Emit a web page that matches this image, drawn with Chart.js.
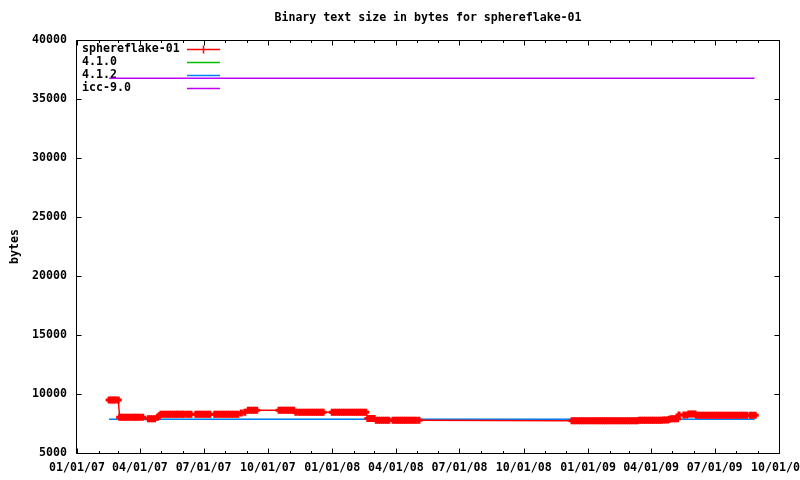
<!DOCTYPE html>
<html lang="en">
<head>
  <meta charset="UTF-8">
  <script src="https://cdn.jsdelivr.net/npm/chart.js@4.4.0/dist/chart.umd.min.js"></script>
  <title>Binary text size in bytes for sphereflake-01</title>
  <style>
    html, body { margin: 0; padding: 0; background: #fff; }
  </style>
</head>
<body>
  <canvas id="myChart" width="800" height="480"></canvas>
  <script type="text/javascript">
    // x values are days since 01/01/07
    const quarterDays = [0, 90, 181, 273, 365, 456, 547, 639, 731, 821, 912, 1004]
    const quarterLabels = ['01/01/07', '04/01/07', '07/01/07', '10/01/07', '01/01/08', '04/01/08',
      '07/01/08', '10/01/08', '01/01/09', '04/01/09', '07/01/09', '10/01/09']
    const monthDays = [0, 31, 59, 90, 120, 151, 181, 212, 243, 273, 304, 334,
      365, 396, 425, 456, 486, 517, 547, 578, 609, 639, 670, 700,
      731, 762, 790, 821, 851, 882, 912, 943, 974, 1004]
    const yTicks = [5000, 10000, 15000, 20000, 25000, 30000, 35000, 40000]

    const seriesNames = ['sphereflake-01', '4.1.0', '4.1.2', 'icc-9.0']

    const sphereDays = [
      46, 49, 52, 55, 59,
      61, 64, 67, 70, 73, 76, 79, 82, 84, 87, 90, 94,
      102, 105, 108, 111,
      115, 118,
      120, 123, 126, 129, 132, 135, 138, 141, 143, 145, 148, 151, 153, 157, 160, 163,
      170, 173, 176, 179, 182, 185, 188, 190, 197, 200, 203, 206, 209, 212, 215, 218, 221, 224, 227, 230,
      235, 240,
      245, 248, 251, 254, 257,
      289, 292, 295, 298, 301, 304, 307, 310,
      313, 317, 320, 323, 326, 329, 332, 335, 338, 341, 344, 347, 350, 352,
      365, 368, 371, 374, 377, 380, 383, 386, 389, 392, 395, 398, 401, 404, 407, 410, 413,
      416, 419, 422, 425,
      428, 431, 434, 437, 440, 443, 446,
      452, 455, 458, 461, 464, 467, 470, 473, 476, 479, 482, 485, 489,
      708, 711, 714, 717, 720, 723, 726, 729, 732, 735, 738, 741,
      744, 747, 750, 753, 756, 759, 762, 765, 768, 771, 774, 777, 780, 783, 786, 789, 792, 795, 798, 801,
      804, 807, 810, 813, 816, 819, 822, 824, 827, 830, 833, 836,
      839, 842, 845,
      847, 850, 853, 856, 859,
      861, 868, 872,
      875, 878, 881, 884,
      886, 889, 892, 895, 898, 901, 904, 907, 910, 913, 916, 919, 922, 925, 928, 931, 934, 937, 940, 943, 946, 949, 952, 955, 958,
      963, 966, 970
    ]
    const sphereBytes = [
      9500, 9500, 9500, 9500, 9500,
      8030, 8030, 8030, 8030, 8030, 8030, 8030, 8030, 8030, 8030, 8030, 8030,
      7900, 7900, 7900, 7900,
      8030, 8150,
      8280, 8280, 8280, 8280, 8280, 8280, 8280, 8280, 8280, 8280, 8280, 8280, 8280, 8280, 8280, 8280,
      8280, 8280, 8280, 8280, 8280, 8280, 8280, 8280, 8280, 8280, 8280, 8280, 8280, 8280, 8280, 8280, 8280, 8280, 8280, 8280,
      8400, 8450,
      8630, 8630, 8630, 8630, 8630,
      8630, 8630, 8630, 8630, 8630, 8630, 8630, 8630,
      8450, 8450, 8450, 8450, 8450, 8450, 8450, 8450, 8450, 8450, 8450, 8450, 8450, 8450,
      8450, 8450, 8450, 8450, 8450, 8450, 8450, 8450, 8450, 8450, 8450, 8450, 8450, 8450, 8450, 8450, 8450,
      7920, 7920, 7920, 7920,
      7770, 7770, 7770, 7770, 7770, 7770, 7770,
      7770, 7770, 7770, 7770, 7770, 7770, 7770, 7770, 7770, 7770, 7770, 7770, 7770,
      7730, 7730, 7730, 7730, 7730, 7730, 7730, 7730, 7730, 7730, 7730, 7730,
      7730, 7730, 7730, 7730, 7730, 7730, 7730, 7730, 7730, 7730, 7730, 7730, 7730, 7730, 7730, 7730, 7730, 7730, 7730, 7730,
      7770, 7770, 7770, 7770, 7770, 7770, 7770, 7770, 7770, 7770, 7770, 7770,
      7790, 7790, 7790,
      7850, 7900, 7900, 7900, 7900,
      8220, 8220, 8220,
      8300, 8300, 8300, 8300,
      8200, 8200, 8200, 8200, 8200, 8200, 8200, 8200, 8200, 8200, 8200, 8200, 8200, 8200, 8200, 8200, 8200, 8200, 8200, 8200, 8200, 8200, 8200, 8200, 8200,
      8200, 8200, 8200
    ]

    const refDays = [46, 969]
    const gcc410Bytes = [7850, 7850]
    const gcc412Bytes = [7850, 7850]
    const icc90Bytes = [36750, 36750]

    const colors = ['#ff0000', '#00c000', '#0080ff', '#c000ff']
    const font = 'bold 11.6px "DejaVu Sans Mono", "Liberation Mono", monospace'

    function pts(xs, ys) {
      return xs.map((x, i) => ({ x: x, y: ys[i] }))
    }

    // gnuplot-ish frame: border, inward ticks mirrored on all sides, title and key
    const gnuFrame = {
      id: 'gnuFrame',
      beforeDatasetsDraw(chart) {
        const ctx = chart.ctx
        const a = chart.chartArea
        ctx.save()
        ctx.font = font
        ctx.fillStyle = '#000'
        ctx.textBaseline = 'middle'
        ctx.textAlign = 'center'
        ctx.fillText('Binary text size in bytes for sphereflake-01', (a.left + a.right) / 2, 18)

        // key
        ctx.textAlign = 'left'
        chart.data.datasets.forEach((ds, i) => {
          const yy = 49 + i * 13
          ctx.fillStyle = '#000'
          ctx.fillText(ds.label, 82, yy)
          ctx.strokeStyle = ds.borderColor
          ctx.lineWidth = 1.5
          ctx.beginPath()
          ctx.moveTo(187, yy + 0.5)
          ctx.lineTo(220, yy + 0.5)
          if (i === 0) {
            ctx.moveTo(203.5, yy - 3.5)
            ctx.lineTo(203.5, yy + 4.5)
          }
          ctx.stroke()
        })
        ctx.restore()
      },
      afterDatasetsDraw(chart) {
        const ctx = chart.ctx
        const a = chart.chartArea
        const { x, y } = chart.scales
        const L = Math.floor(a.left) - 0.5, R = Math.floor(a.right) + 0.5
        const T = Math.floor(a.top) + 0.5, B = Math.floor(a.bottom) + 0.5
        ctx.save()
        ctx.strokeStyle = '#000'
        ctx.lineWidth = 1
        ctx.beginPath()
        ctx.rect(L, T, R - L, B - T)
        monthDays.forEach(d => {
          const px = Math.round(x.getPixelForValue(d)) + 0.5
          const len = quarterDays.includes(d) ? 5 : 2.5
          ctx.moveTo(px, B); ctx.lineTo(px, B - len)
          ctx.moveTo(px, T); ctx.lineTo(px, T + len)
        })
        yTicks.forEach(v => {
          const py = Math.round(y.getPixelForValue(v)) + 0.5
          ctx.moveTo(L, py); ctx.lineTo(L + 5, py)
          ctx.moveTo(R, py); ctx.lineTo(R - 5, py)
        })
        ctx.stroke()
        ctx.restore()
      }
    }

    const ctx = document.getElementById('myChart').getContext('2d')
    const myChart = new Chart(ctx, {
      type: 'line',
      data: {
        datasets: [
          {
            label: seriesNames[0],
            data: pts(sphereDays, sphereBytes),
            borderColor: colors[0],
            backgroundColor: colors[0],
            borderWidth: 1.5,
            pointStyle: 'cross',
            pointRadius: 3.5,
            pointBorderWidth: 3,
            pointBorderColor: colors[0],
            order: 0
          },
          {
            label: seriesNames[1],
            data: pts(refDays, gcc410Bytes),
            borderColor: colors[1],
            borderWidth: 1,
            pointRadius: 0,
            order: 2
          },
          {
            label: seriesNames[2],
            data: pts(refDays, gcc412Bytes),
            borderColor: colors[2],
            borderWidth: 1.5,
            pointRadius: 0,
            order: 1
          },
          {
            label: seriesNames[3],
            data: pts(refDays, icc90Bytes),
            borderColor: colors[3],
            borderWidth: 1.5,
            pointRadius: 0,
            order: 3
          }
        ]
      },
      options: {
        responsive: false,
        animation: false,
        devicePixelRatio: 1,
        layout: { padding: { top: 40, right: 21, left: 0, bottom: 0 } },
        plugins: {
          legend: { display: false },
          tooltip: { enabled: false },
          title: { display: false }
        },
        scales: {
          x: {
            type: 'linear',
            min: 0,
            max: 1004,
            grid: { display: false, drawTicks: false },
            border: { display: false },
            afterBuildTicks: scale => {
              scale.ticks = quarterDays.map(d => ({ value: d }))
            },
            afterFit: scale => {
              scale.height = 27
              scale.paddingLeft = 0
              scale.paddingRight = 0
            },
            ticks: {
              autoSkip: false,
              maxRotation: 0,
              padding: 8,
              color: '#000',
              font: { family: '"DejaVu Sans Mono", monospace', size: 11.6, weight: 'bold' },
              callback: value => quarterLabels[quarterDays.indexOf(value)]
            }
          },
          y: {
            min: 5000,
            max: 40000,
            grid: { display: false, drawTicks: false },
            border: { display: false },
            afterBuildTicks: scale => {
              scale.ticks = yTicks.map(v => ({ value: v }))
            },
            afterFit: scale => {
              scale.width = 77
              scale.paddingTop = 0
              scale.paddingBottom = 0
            },
            ticks: {
              padding: 10,
              color: '#000',
              font: { family: '"DejaVu Sans Mono", monospace', size: 11.6, weight: 'bold' },
              callback: value => String(value)
            },
            title: {
              display: true,
              text: 'bytes',
              color: '#000',
              padding: { top: 8, bottom: 0 },
              font: { family: '"DejaVu Sans Mono", monospace', size: 11.6, weight: 'bold', lineHeight: 1.2 }
            }
          }
        }
      },
      plugins: [gnuFrame]
    })
  </script>
</body>
</html>
